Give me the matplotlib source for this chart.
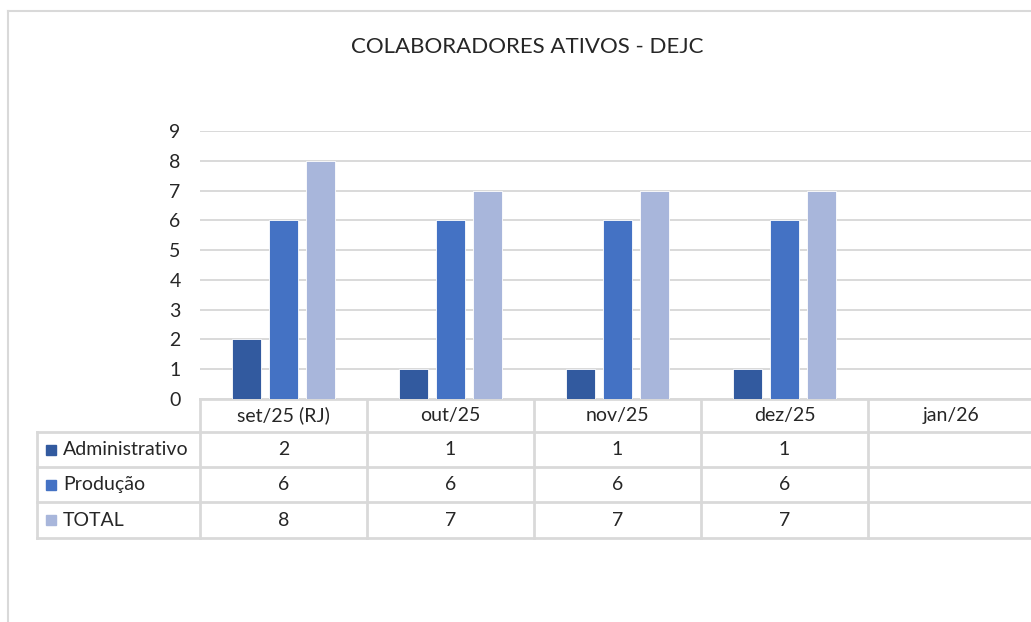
import numpy as np
import matplotlib
matplotlib.use("Agg")
import matplotlib.pyplot as plt
from matplotlib.transforms import blended_transform_factory

plt.rcParams['font.family'] = ['Lato', 'DejaVu Sans']

# dados
meses = ['set/25 (RJ)', 'out/25', 'nov/25', 'dez/25', 'jan/26']
administrativo = [2, 1, 1, 1, np.nan]
producao = [6, 6, 6, 6, np.nan]
total = [8, 7, 7, 7, np.nan]
series = ['Administrativo', 'Produção', 'TOTAL']
cores = ['#325A9F', '#4472C4', '#A8B6DB']
titulo = 'COLABORADORES ATIVOS - DEJC'

W, H = 1031, 622
fig = plt.figure(figsize=(W / 100, H / 100), dpi=100)

def fy(ypx):
    return 1 - ypx / H

# eixo principal (x de 200 px ate 1035 px, y de 399 a 131 px)
ax = fig.add_axes([200 / W, fy(399), 835 / W, 268 / H])
x = np.arange(len(meses))
valores = [administrativo, producao, total]
offs = [-0.222, 0, 0.222]
for v, c, o, nome in zip(valores, cores, offs, series):
    ax.bar(x + o, v, width=0.174, color=c, edgecolor='white', linewidth=0.6, label=nome, zorder=3)

ax.set_xlim(-0.5, len(meses) - 0.5)
ax.set_ylim(0, 9)
ax.set_yticks(range(0, 10))
ax.yaxis.grid(True, color='#D9D9D9', linewidth=1.4, zorder=0)
ax.set_xticks([])
for s in ax.spines.values():
    s.set_visible(False)
ax.tick_params(axis='y', length=0, pad=14, labelsize=14, labelcolor='#262626')

fig.text(527 / W, fy(47), titulo, ha='center', va='center', fontsize=16, color='#262626')

# tabela de dados
tr = blended_transform_factory(ax.transData, fig.transFigure)
linha = dict(color='#D9D9D9', linewidth=2, transform=tr, clip_on=False)
esq = -0.5 - 163 / 167
topo, linhas = 399, [432, 467, 502, 538]
direita = len(meses) - 0.5 + 0.2

ax.plot([-0.5, direita], [fy(topo)] * 2, **linha)
for yl in linhas:
    ax.plot([esq, direita], [fy(yl)] * 2, **linha)
for i in range(len(meses)):
    ax.plot([i - 0.5] * 2, [fy(topo), fy(linhas[-1])], **linha)
ax.plot([esq] * 2, [fy(linhas[0]), fy(linhas[-1])], **linha)

txt = dict(transform=tr, ha='center', va='center', fontsize=14, color='#262626', clip_on=False)
for i, m in enumerate(meses):
    ax.text(i, fy((topo + linhas[0]) / 2), m, **txt)
yc = [(linhas[k] + linhas[k + 1]) / 2 for k in range(3)]
for k, v in enumerate(valores):
    for i, val in enumerate(v):
        if not np.isnan(val):
            ax.text(i, fy(yc[k]), str(int(val)), **txt)
    # marcador de legenda + rotulo
    fig.patches.append(plt.Rectangle((46 / W, fy(yc[k] + 5)), 10 / W, 10 / H,
                                     color=cores[k], transform=fig.transFigure, figure=fig))
    fig.text(63 / W, fy(yc[k]), series[k], ha='left', va='center', fontsize=14, color='#262626')

# moldura do grafico
fig.add_artist(plt.Line2D([8 / W, 8 / W], [0, fy(11)], color='#D9D9D9', linewidth=1.5))
fig.add_artist(plt.Line2D([8 / W, 1], [fy(11), fy(11)], color='#D9D9D9', linewidth=1.5))

fig.savefig('out.png', dpi=100)
